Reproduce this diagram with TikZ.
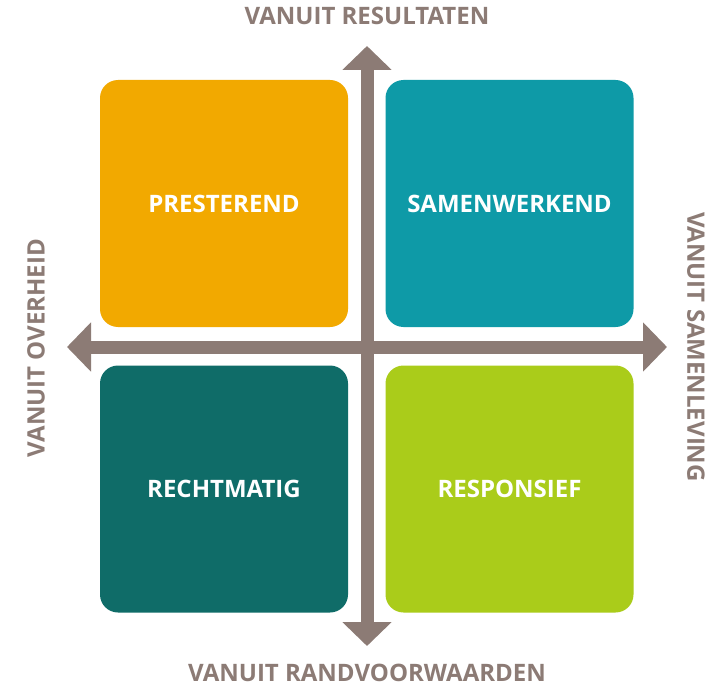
\documentclass[tikz,border=0pt]{standalone}
\usepackage{fontspec}
\setmainfont{Open Sans}
\usetikzlibrary{arrows.meta}
\definecolor{axisgray}{RGB}{140,123,117}
\definecolor{qorange}{RGB}{242,169,0}
\definecolor{qteal}{RGB}{14,154,167}
\definecolor{qdark}{RGB}{15,108,104}
\definecolor{qgreen}{RGB}{170,204,26}
\begin{document}
\begin{tikzpicture}[x=1pt,y=-1pt,
  quad/.style={rounded corners=18pt, minimum width=248pt, minimum height=247pt, inner sep=0pt,
    text=white, font=\fontsize{24}{28}\bfseries\selectfont},
  axislabel/.style={text=axisgray, inner sep=0pt, font=\fontsize{24}{28}\bfseries\selectfont},
  axis/.style={draw=axisgray, line width=13pt,
    {Triangle[length=24pt,width=48pt]}-{Triangle[length=24pt,width=48pt]}}]
\useasboundingbox[fill=white] (0,0) rectangle (725,687);
\node[quad, fill=qorange] (pres) at (224,203.5) {PRESTEREND};
\node[quad, fill=qteal] (samen) at (509.5,203.5) {SAMENWERKEND};
\node[quad, fill=qdark] (recht) at (224,489) {RECHTMATIG};
\node[quad, fill=qgreen] (resp) at (509.5,489) {RESPONSIEF};
\coordinate (top) at (367,46);
\coordinate (bottom) at (367,646);
\coordinate (left) at (67,347);
\coordinate (right) at (667,347);
\draw[axis] (bottom) -- (top);
\draw[axis] (left) -- (right);
\node[axislabel, anchor=base] (lt) at (367,25) {VANUIT RESULTATEN};
\node[axislabel, anchor=base] (lb) at (367,681) {VANUIT RANDVOORWAARDEN};
\node[axislabel, rotate=90] (ll) at (36,348) {VANUIT OVERHEID};
\node[axislabel, rotate=-90] (lr) at (696,347) {VANUIT SAMENLEVING};
\end{tikzpicture}
\end{document}
